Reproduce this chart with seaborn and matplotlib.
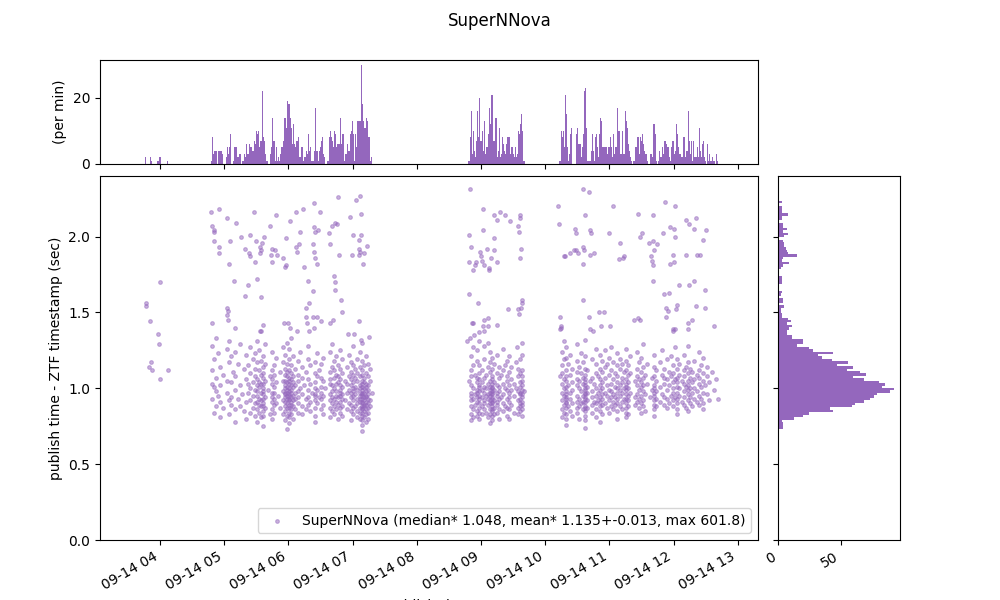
import datetime as dt
import numpy as np
import matplotlib
matplotlib.use('Agg')
import matplotlib.pyplot as plt
import matplotlib.dates as mdates
import seaborn as sns

# times are minutes after 03:00 UTC, 2021-09-14
day0 = dt.datetime(2021, 9, 14, 3, 0)
color = 'tab:purple'
label = 'SuperNNova (median* 1.048, mean* 1.135+-0.013, max 601.8)'

# alerts per minute (top panel), one list per block, first minute given
rate_a_start = 46
rate_a = [2, 0, 0, 0, 0, 2, 1, 0, 0, 0, 0, 0, 1, 1, 2, 0, 0, 0, 0, 0, 0, 1]
rate_b_start = 108
rate_b = [1, 8, 3, 4, 4, 4, 0, 4, 4, 4, 3, 0, 0, 0, 2, 5, 3, 5, 9, 0,
          0, 1, 5, 5, 2, 2, 3, 3, 0, 1, 1, 3, 2, 6, 3, 3, 6, 5, 4, 4,
          7, 6, 10, 9, 10, 5, 7, 7, 22, 8, 7, 3, 1, 0, 0, 3, 5, 14, 7, 7,
          1, 5, 1, 2, 1, 3, 5, 7, 14, 14, 11, 19, 18, 18, 14, 11, 6, 12, 6, 5,
          7, 8, 2, 2, 5, 5, 1, 2, 2, 4, 3, 9, 4, 5, 1, 1, 4, 17, 4, 4,
          1, 4, 5, 7, 8, 3, 2, 0, 0, 1, 8, 10, 8, 7, 5, 10, 9, 5, 6, 6,
          6, 14, 6, 9, 1, 3, 3, 6, 4, 4, 9, 10, 13, 9, 1, 9, 5, 13, 13, 13,
          30, 18, 13, 11, 11, 14, 13, 8, 8, 1, 2]
rate_c_start = 348
rate_c = [1, 1, 8, 16, 3, 10, 4, 2, 7, 16, 8, 20, 7, 10, 4, 13, 3, 5, 5, 9,
          17, 12, 21, 21, 7, 7, 14, 2, 4, 11, 2, 3, 8, 6, 4, 3, 6, 8, 8, 8,
          3, 5, 3, 2, 5, 2, 3, 10, 9, 12, 15, 10, 1, 1]
rate_d_start = 433
rate_d = [1, 1, 10, 8, 10, 5, 21, 15, 5, 1, 3, 9, 11, 0, 0, 0, 9, 11, 6, 6,
          6, 2, 5, 9, 22, 23, 11, 1, 1, 1, 4, 9, 4, 1, 8, 9, 5, 2, 9, 14,
          13, 5, 5, 5, 5, 3, 5, 5, 8, 5, 2, 9, 3, 5, 5, 17, 10, 3, 3, 10,
          3, 3, 16, 13, 11, 6, 4, 2, 1, 0, 1, 5, 5, 8, 8, 3, 8, 7, 9, 6,
          4, 3, 3, 1, 0, 3, 3, 2, 12, 12, 9, 1, 0, 1, 4, 2, 2, 5, 3, 7,
          6, 5, 5, 2, 1, 5, 7, 7, 3, 4, 12, 9, 5, 3, 2, 2, 8, 8, 2, 4,
          4, 16, 7, 3, 7, 1, 7, 2, 2, 5, 2, 11, 4, 2, 6, 7, 2, 1, 0, 6,
          1, 3, 1, 2, 1, 1, 0, 3, 1]

# latency histogram (right panel): bins of 0.016 s from 0.73 s
lat_lo, lat_w = 0.73, 0.016
lat_counts = [4, 4, 4, 3, 13, 20, 25, 44, 41, 59, 61, 68, 73, 76, 79, 89, 92, 83, 85, 80,
              68, 60, 70, 65, 55, 60, 47, 56, 43, 35, 32, 44, 28, 25, 15, 20, 20, 11, 11, 7,
              7, 9, 11, 7, 10, 8, 3, 3, 2, 2, 5, 1, 4, 4, 0, 2, 3, 1, 0, 1,
              3, 3, 3, 0, 0, 1, 2, 4, 9, 3, 4, 15, 8, 7, 6, 5, 5, 4, 1, 5,
              8, 4, 7, 4, 4, 0, 3, 3, 8, 3, 3, 3, 0, 3, 0, 0, 0, 0, 1, 0]

# isolated alerts (minute, latency)
out_a = [(46.9, 1.56), (47.2, 1.54), (50.0, 1.14), (50.9, 1.44), (51.6, 1.17), (52.8, 1.12),
         (58.4, 1.36), (59.3, 1.29), (60.3, 1.70), (60.0, 1.06), (67.8, 1.12)]
out_b = [(107.6, 2.16), (115.4, 2.18), (148.1, 2.16), (168.7, 2.14), (187.4, 2.16), (193.9, 2.18),
         (204.2, 2.22), (209.8, 2.16), (226.7, 2.26), (243.5, 2.24), (247.2, 2.27), (237.9, 2.13),
         (248.1, 2.15), (122.9, 2.12), (131.3, 2.09), (108.9, 2.07), (110.5, 2.04), (110.1, 2.03),
         (163.1, 2.07), (181.8, 2.10), (204.2, 2.06), (208.0, 2.04), (204.6, 2.03), (191.1, 2.03),
         (221.0, 2.07), (223.9, 2.09), (225.7, 2.08), (218.2, 2.02), (110.8, 1.97), (125.7, 1.97),
         (136.0, 2.00), (144.4, 2.01), (150.0, 1.97), (155.6, 1.96), (157.5, 2.00), (153.4, 1.93),
         (154.1, 1.91), (115.1, 1.93), (115.3, 1.89), (139.7, 1.92), (143.5, 1.89), (143.8, 1.87),
         (153.8, 1.89), (164.0, 1.88), (164.7, 1.92), (167.8, 1.91), (169.6, 1.88), (175.3, 1.86),
         (178.1, 1.99), (187.1, 1.93), (190.2, 1.95), (188.3, 1.90), (203.3, 1.95), (204.0, 1.90),
         (204.4, 1.86), (207.0, 1.82), (219.2, 1.95), (227.3, 1.88), (239.7, 1.88), (240.7, 2.01),
         (246.3, 1.98), (248.1, 2.01), (253.1, 1.94), (246.9, 1.90), (245.7, 1.88), (251.0, 1.89),
         (246.0, 1.92), (124.8, 1.82), (149.1, 1.83), (164.2, 1.83), (177.4, 1.81), (176.5, 1.80),
         (194.9, 1.80), (250.0, 1.82), (129.5, 1.71), (151.0, 1.72), (142.5, 1.68), (139.7, 1.61),
         (154.7, 1.60), (198.6, 1.71), (202.7, 1.64), (222.9, 1.74), (223.1, 1.70), (223.9, 1.65),
         (199.6, 1.56), (196.8, 1.53), (229.5, 1.58), (229.7, 1.50), (122.6, 1.53), (123.2, 1.51),
         (122.8, 1.48), (123.9, 1.45), (108.3, 1.43), (130.4, 1.40), (155.9, 1.42), (154.4, 1.38),
         (153.4, 1.38), (175.6, 1.43), (179.3, 1.43), (181.5, 1.40), (188.3, 1.38), (196.1, 1.47),
         (203.3, 1.47), (197.7, 1.43), (199.6, 1.38), (207.0, 1.47), (210.2, 1.44), (204.2, 1.40),
         (219.2, 1.43), (222.0, 1.45), (246.3, 1.44), (236.0, 1.36), (241.6, 1.36), (247.5, 1.32),
         (255.6, 1.34)]
out_c = [(350.0, 2.31), (362.2, 2.18), (372.5, 2.14), (378.1, 2.16), (382.8, 2.14), (375.3, 2.11),
         (387.4, 2.10), (396.8, 2.14), (396.9, 2.12), (394.9, 2.07), (362.2, 2.04), (395.8, 2.03),
         (349.1, 2.01), (372.5, 1.99), (351.0, 1.93), (359.4, 1.90), (365.9, 1.92), (372.6, 1.91),
         (360.3, 1.87), (369.7, 1.86), (349.1, 1.83), (355.7, 1.83), (361.3, 1.84), (363.1, 1.81),
         (354.7, 1.81), (352.9, 1.78), (367.8, 1.79), (367.9, 1.78), (375.3, 1.83), (397.7, 1.92),
         (396.8, 1.86), (349.1, 1.62), (357.5, 1.56), (398.6, 1.58), (398.7, 1.56), (397.7, 1.53),
         (385.6, 1.52), (394.9, 1.52), (395.8, 1.49), (363.1, 1.45), (366.9, 1.46), (351.9, 1.43),
         (352.9, 1.43), (375.3, 1.42), (362.2, 1.41), (366.9, 1.41), (353.8, 1.35), (358.5, 1.37),
         (363.1, 1.38), (350.0, 1.33), (347.2, 1.31), (366.9, 1.30), (398.6, 1.30), (394.0, 1.27)]
out_d = [(455.6, 2.31), (461.3, 2.29), (432.3, 2.20), (483.7, 2.20), (457.5, 2.14), (507.0, 2.15),
         (521.1, 2.14), (532.3, 2.23), (541.6, 2.20), (433.2, 2.08), (448.2, 2.05), (448.4, 2.02),
         (462.2, 2.04), (462.4, 2.02), (479.9, 2.02), (490.2, 1.96), (455.6, 1.93), (456.6, 1.91),
         (437.9, 1.87), (438.8, 1.87), (443.5, 1.89), (447.2, 1.91), (449.1, 1.91), (451.0, 1.89),
         (462.2, 1.88), (465.9, 1.89), (455.6, 1.82), (489.3, 1.85), (493.0, 1.86), (493.2, 1.87),
         (508.6, 2.00), (510.5, 2.02), (517.3, 1.96), (521.1, 1.97), (524.8, 1.95), (521.3, 1.91),
         (519.2, 1.87), (520.1, 1.84), (520.3, 1.81), (530.4, 2.02), (537.0, 2.06), (540.7, 2.05),
         (541.6, 2.00), (551.9, 2.11), (554.7, 2.08), (559.4, 2.05), (561.2, 2.12), (570.6, 2.04),
         (567.8, 1.98), (539.8, 1.88), (551.9, 1.88), (562.2, 1.88), (565.0, 1.88), (540.7, 1.83),
         (537.0, 1.82), (521.1, 1.71), (545.4, 1.68), (554.7, 1.68), (559.4, 1.71), (531.3, 1.62),
         (536.0, 1.63), (569.7, 1.65), (455.6, 1.58), (543.5, 1.55), (533.2, 1.53), (535.1, 1.51),
         (542.6, 1.52), (561.2, 1.54), (569.7, 1.53), (434.2, 1.47), (470.6, 1.50), (475.3, 1.50),
         (461.3, 1.47), (503.3, 1.45), (507.0, 1.46), (508.9, 1.45), (533.2, 1.47), (553.8, 1.43),
         (557.5, 1.45), (435.1, 1.41), (434.4, 1.40), (434.2, 1.39), (472.5, 1.41), (480.9, 1.41),
         (462.2, 1.39), (465.0, 1.38), (578.1, 1.41), (539.8, 1.39), (541.6, 1.39), (539.9, 1.38),
         (553.8, 1.39)]

# bulk of alerts, latencies grouped in 2-minute slots (first slot centre given)
core_b_start = 108.5
core_b = [
    [1.12, 0.93, 1.28, 1.03], [0.84, 1.19, 1.01], [1.33, 0.98, 0.88, 1.07], [1.23, 0.95],
    [0.81, 1.14, 1.02, 0.91], [1.09, 0.87], [], [1.26, 0.97, 1.05],
    [0.92, 1.17, 0.83, 1.31], [1.04, 0.94, 1.21, 0.89], [1.11], [0.86, 1.24, 0.99, 1.08, 0.78],
    [1.16, 0.93], [1.02, 0.88, 1.29], [0.96], [1.13, 0.85],
    [1.06, 0.91, 1.22, 0.80], [0.97, 1.15, 1.03], [0.84, 1.27, 1.00, 0.92, 1.10], [1.19, 0.87, 1.04, 0.95],
    [0.90, 1.08, 0.82, 1.23, 0.99, 1.13], [0.95, 1.02, 0.86, 1.17, 0.91, 1.06, 0.78, 1.31, 0.98],
    [1.04, 0.89, 1.12, 0.93, 1.25, 0.84, 1.01], [0.92, 1.09, 0.97, 0.81, 1.18, 1.03, 0.88],
    [0.85, 0.93, 1.00, 1.07, 0.90, 0.96, 1.14, 0.82, 1.03, 0.98, 1.21, 0.88, 0.75, 1.10],
    [0.94, 1.16, 0.87, 1.05, 1.29], [0.99], [1.08, 0.83],
    [0.91, 1.03, 0.86, 1.12, 0.97, 1.24, 0.80, 0.94, 1.06], [1.01, 0.89, 1.15, 0.93, 0.84, 1.09, 0.97],
    [1.20, 0.90, 1.04], [0.95], [1.11, 0.87], [0.92, 1.05, 0.83, 1.17, 0.98, 1.27],
    [0.88, 0.96, 1.02, 0.91, 1.09, 0.85, 1.00, 0.94, 1.13, 0.79, 1.05, 0.97, 1.22],
    [0.93, 0.87, 1.01, 1.08, 0.95, 0.82, 1.16, 0.99, 0.90, 1.04, 0.73, 0.97, 1.11, 1.30],
    [0.84, 0.92, 0.98, 1.03, 0.89, 0.95, 1.07, 0.81, 1.00, 0.93, 1.12, 0.87, 0.96, 1.19, 1.05, 0.77, 1.26],
    [0.91, 1.02, 0.86, 0.97, 1.10, 0.94, 0.83, 1.06, 0.99, 1.15, 0.89, 1.33],
    [0.95, 1.08, 0.88, 1.01, 0.92, 1.21, 0.80, 1.04], [0.97, 1.13, 0.86, 1.02, 0.93],
    [0.90, 1.05, 0.98, 1.18, 0.84, 1.09, 0.94], [1.00, 1.24], [0.88, 1.07, 0.96, 1.14, 0.83], [1.02],
    [0.93, 1.11, 0.86], [0.99, 1.06, 0.89, 1.19, 0.94, 1.28], [0.91, 1.03, 0.85, 1.15], [0.97],
    [0.87, 0.95, 1.04, 0.92, 1.10, 0.82, 1.00, 0.96, 1.17, 0.78], [1.08, 0.90, 1.23, 0.99],
    [0.94, 1.12], [0.86, 1.01, 0.93, 1.16, 0.97, 1.07], [0.89, 1.05, 0.95, 1.20, 0.83], [1.00], [],
    [0.92, 1.03, 0.87, 1.11, 0.96, 1.24, 0.81, 1.06], [0.98, 0.90, 1.14, 0.85, 1.02, 1.29, 0.94],
    [1.07, 0.93, 0.88, 1.18, 1.00, 0.83, 1.12], [0.95, 1.09, 0.86, 1.03, 0.91, 1.21, 0.98],
    [1.04, 0.89, 1.15, 0.94, 0.80, 1.08], [0.91, 0.99, 1.06, 0.87, 1.13, 0.95, 1.02, 0.84, 1.25, 0.97],
    [1.01, 0.93, 0.88, 1.10, 0.96, 1.19, 0.82], [1.05, 0.92], [0.97, 1.14, 0.86, 1.03],
    [0.90, 1.08, 0.99, 1.22], [0.85, 0.94, 1.02, 0.89, 1.11, 0.97, 1.06, 0.79, 1.17],
    [0.92, 0.87, 1.00, 1.09, 0.95, 0.83, 1.04, 0.98, 1.15, 1.28], [0.96, 1.07, 0.88, 1.13, 1.01],
    [0.90, 0.99, 0.85, 1.05, 0.93, 1.19, 0.81, 1.10],
    [0.87, 0.95, 1.02, 0.91, 0.84, 1.08, 0.97, 0.80, 1.14, 0.93, 1.00, 1.24],
    [0.82, 0.88, 0.93, 0.97, 1.01, 0.86, 0.91, 1.05, 0.79, 0.95, 0.99, 1.09, 0.84, 0.90, 1.12, 0.76,
     0.96, 1.03, 1.18, 0.87, 1.30, 0.72],
    [0.89, 0.94, 1.00, 0.85, 1.07, 0.92, 0.81, 1.04, 0.97, 1.15, 0.88],
    [0.91, 0.86, 0.98, 1.03, 0.83, 0.95, 1.10, 0.89, 1.01, 0.78, 1.21, 0.94],
    [0.87, 0.96, 1.02, 0.90, 0.84, 1.08, 0.93, 1.16, 0.80, 0.99], [0.92, 1.05, 0.88, 1.13], [0.97]]
core_c_start = 348.5
core_c = [
    [1.05], [0.88, 1.12, 0.95, 1.02, 0.83, 1.21, 0.97, 0.79, 1.08, 0.92],
    [1.00, 0.86, 1.15, 0.93, 1.27, 0.81], [0.96, 1.09, 0.89],
    [0.91, 1.04, 0.85, 0.99, 1.18, 0.94, 0.82, 1.07, 1.25, 0.97],
    [0.87, 0.95, 1.01, 0.90, 1.10, 0.84, 0.98, 1.06, 0.93, 1.15, 0.80, 1.02, 1.31],
    [0.99, 0.88, 1.12, 0.94, 1.04, 0.83], [0.92, 1.07, 0.97, 0.86, 1.19, 1.01, 0.90, 1.28],
    [0.95, 1.09, 0.84, 1.00], [0.89, 1.03, 0.96, 1.14, 0.81, 0.93],
    [0.86, 0.92, 0.99, 1.05, 0.83, 0.95, 1.11, 0.90, 1.01, 0.77, 1.17, 0.97, 1.24],
    [0.85, 0.91, 0.96, 1.00, 0.88, 0.94, 1.03, 0.82, 0.98, 1.08, 0.90, 0.86, 1.13, 0.93, 0.79, 1.01,
     1.20, 0.97, 1.06],
    [0.92, 1.04, 0.87, 0.99, 1.16, 0.83], [0.95, 1.02, 0.89, 1.10, 0.84, 0.97, 1.22, 0.91],
    [0.98, 0.86, 1.07, 0.93, 1.14, 0.80, 1.01], [0.94, 1.09], [0.90, 1.03, 0.85, 1.12, 0.96, 1.26],
    [1.00, 0.88, 1.15], [0.93, 1.05, 0.87, 0.99, 1.18, 0.82, 1.08],
    [0.91, 0.97, 1.02, 0.86, 1.11, 0.94, 1.21, 0.80], [0.99, 1.06, 0.89, 1.14], [0.95, 1.03, 0.84],
    [1.00, 1.17], [0.92, 1.08, 0.87, 0.98, 1.13, 0.83],
    [0.90, 0.96, 1.04, 0.85, 1.10, 0.93, 1.01, 1.19, 0.88, 0.97],
    [0.86, 0.94, 0.99, 1.05, 0.91, 0.82, 1.12, 0.96, 1.02, 1.22, 0.89, 1.08], [0.98]]
core_d_start = 433.5
core_d = [
    [1.08], [0.92, 1.15, 0.86, 1.03, 0.97, 1.24, 0.81, 1.10], [0.95, 1.06, 0.89, 1.19, 1.00, 0.84, 1.31],
    [0.83, 0.90, 0.96, 1.01, 0.87, 0.93, 1.05, 0.80, 0.98, 1.12, 0.91, 1.08, 0.76, 1.20, 0.94, 1.27],
    [1.02, 0.88, 1.16], [0.97, 1.09, 0.85, 1.22, 0.93], [1.04, 0.90, 1.13, 0.82, 0.99], [],
    [0.87, 0.95, 1.02, 1.11, 0.91, 1.18, 0.84, 1.06, 1.29], [0.93, 1.00, 0.88, 1.14, 1.05, 0.80],
    [0.98, 1.10, 0.90, 1.23], [0.86, 1.03, 0.95, 1.17, 0.91, 1.07],
    [0.82, 0.88, 0.94, 0.99, 1.04, 0.85, 0.91, 0.97, 1.02, 1.09, 0.79, 0.93, 1.13, 0.87, 1.00, 1.21,
     0.96, 0.74, 1.06, 1.32],
    [0.92, 1.01, 0.87, 1.12, 0.97], [1.05], [0.89, 0.98, 1.07, 0.94, 1.19, 0.84], [1.03, 0.91],
    [0.86, 0.95, 1.10, 1.00, 0.90, 1.16, 0.81, 1.26], [0.97, 1.08, 0.92],
    [0.88, 0.94, 1.02, 0.85, 1.13, 0.99, 1.06, 0.91, 1.22, 0.78],
    [0.96, 1.04, 0.89, 1.11, 0.93, 1.18, 0.83, 1.00], [1.07, 0.90, 1.14, 0.97, 1.25],
    [0.87, 1.02, 0.95, 1.16], [0.92, 1.09, 0.99, 0.84, 1.20], [1.03, 0.94, 1.12, 0.88, 1.27, 0.98],
    [0.91, 1.06, 1.17, 0.96, 0.86], [1.01, 0.89, 1.10, 0.94],
    [0.85, 0.93, 1.00, 1.08, 0.90, 1.15, 0.97, 1.04, 0.80, 1.23], [0.95, 1.02, 0.88, 1.13, 0.99, 1.19],
    [0.91, 1.07, 0.86, 1.16, 0.97, 1.04], [1.00, 0.93, 1.11],
    [0.84, 0.90, 0.96, 1.01, 1.06, 0.87, 0.93, 1.12, 0.99, 1.18, 0.81, 1.03, 1.26],
    [0.92, 1.00, 0.88, 1.09, 0.95, 1.15, 1.04, 0.83], [0.97, 1.10, 1.21], [], [0.94, 1.05, 0.89],
    [1.02, 0.91, 1.13, 0.96, 1.08, 1.24], [0.87, 0.99, 1.06, 1.17, 0.93],
    [1.01, 0.90, 1.11, 0.95, 1.04, 0.84, 1.20], [0.92, 0.98, 1.07, 1.14, 0.88, 1.02, 1.29],
    [0.96, 1.09, 0.85], [1.03, 1.16], [0.94], [1.07, 0.99],
    [0.86, 0.92, 0.97, 1.02, 1.08, 0.89, 1.14, 0.95, 1.00, 1.22, 0.82], [0.93, 1.05, 1.12, 0.98, 0.88],
    [], [1.01, 0.91, 1.17], [0.96, 1.09, 1.25], [0.89, 1.03, 0.94, 1.13, 1.07],
    [0.99, 1.06, 0.87, 1.19, 0.93], [1.02, 1.11, 0.90], [0.95, 1.08, 1.21],
    [0.88, 0.97, 1.04, 1.15, 0.92, 1.10, 1.00], [1.06, 0.94, 1.27],
    [0.86, 0.93, 1.01, 1.07, 0.97, 1.13, 0.90, 1.04, 1.19, 0.83], [1.00, 1.09, 0.95, 1.16], [0.91, 1.05],
    [0.98, 1.03, 0.89, 1.12, 1.08, 0.94, 1.22], [1.01, 0.87, 1.14],
    [0.92, 0.99, 1.05, 1.10, 0.85, 0.96, 1.17, 1.02, 1.28], [0.94, 1.07, 1.00, 1.13, 0.90],
    [1.04, 0.97, 1.11, 0.88], [0.93, 1.06, 1.18, 1.00], [0.98, 1.09, 0.91],
    [0.95, 1.03, 1.12, 0.89, 1.07, 1.24], [1.01, 0.93, 1.15], [0.97, 1.05, 0.90, 1.10, 1.20, 0.86],
    [1.02], [0.96, 1.08, 1.14], [0.92, 1.04], [1.11], [0.99], [1.06], [0.93]]

t0 = mdates.date2num(day0)


def to_date(minutes):
    return t0 + np.asarray(minutes, dtype=float) / 1440.0


# collect scatter points
pt_min, pt_lat = [], []
for pts in (out_a, out_b, out_c, out_d):
    pt_min += [p[0] for p in pts]
    pt_lat += [p[1] for p in pts]
for start, slots in ((core_b_start, core_b), (core_c_start, core_c), (core_d_start, core_d)):
    for i, vals in enumerate(slots):
        pt_min += [start + 2 * i] * len(vals)
        pt_lat += vals

rate_min, rate_n = [], []
for start, counts in ((rate_a_start, rate_a), (rate_b_start, rate_b),
                      (rate_c_start, rate_c), (rate_d_start, rate_d)):
    rate_min += [start + i for i in range(len(counts))]
    rate_n += counts

lat_edges = lat_lo + lat_w * np.arange(len(lat_counts) + 1)
lat_mid = lat_edges[:-1] + lat_w / 2

fig = plt.figure(figsize=(10, 6), dpi=100)
ax = fig.add_axes([0.1, 0.1, 0.658, 0.607])
ax_top = fig.add_axes([0.1, 0.727, 0.658, 0.173], sharex=ax)
ax_right = fig.add_axes([0.778, 0.1, 0.122, 0.607], sharey=ax)

sns.scatterplot(x=to_date(pt_min), y=pt_lat, ax=ax, color=color, alpha=0.5,
                s=7, linewidth=0.8, edgecolor=color, label=label)
ax.set_ylim(0, 2.4)
ax.set_xlim(to_date(3.9), to_date(618.9))
ax.set_ylabel('publish time - ZTF timestamp (sec)')
ax.set_xlabel('publish time')
ax.legend(loc='lower right')
ax.xaxis.set_major_locator(mdates.HourLocator())
ax.xaxis.set_major_formatter(mdates.DateFormatter('%m-%d %H'))
plt.setp(ax.get_xticklabels(), rotation=30, ha='right')

t_edges = [float(v) for v in to_date(np.arange(40, 600) + 0.5)]
sns.histplot(x=list(to_date(rate_min)), weights=rate_n, bins=t_edges, ax=ax_top,
             color=color, alpha=1, linewidth=0)
ax_top.set_ylim(0, 31.5)
ax_top.set_yticks([0, 20])
ax_top.set_ylabel('(per min)')
ax_top.set_xlabel('')
ax_top.tick_params(labelbottom=False)

sns.histplot(y=list(lat_mid), weights=lat_counts, bins=[float(v) for v in lat_edges],
             ax=ax_right, color=color, alpha=1, linewidth=0)
ax_right.set_xlim(0, 97)
ax_right.set_xticks([0, 50])
ax_right.set_xlabel('')
ax_right.set_ylabel('')
ax_right.tick_params(labelleft=False)
plt.setp(ax_right.get_xticklabels(), rotation=30, ha='right')

fig.suptitle('SuperNNova')
fig.savefig('out.png', dpi=100)
